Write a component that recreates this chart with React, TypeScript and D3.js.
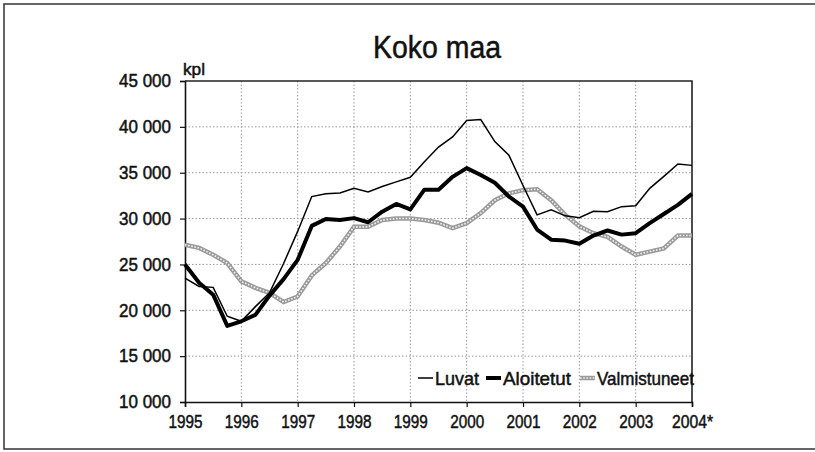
import React, { useEffect, useRef } from "react";
import * as d3 from "d3";

// vuosineljännekset 1995 - 2004
const quarters: number[] = d3.range(37).map((i) => 1995 + i * 0.25);

const luvat: number[] = [
	23500, 22600, 22500, 19350, 18800, 20400, 21900, 25100, 28600, 32400, 32700, 32800, 33300, 32900,
	33500, 34000, 34500, 36200, 37800, 38900, 40700, 40800, 38400, 36900, 33600, 30400, 30950, 30300,
	30100, 30800, 30750, 31300, 31400, 33300, 34600, 35950, 35800,
];

const aloitetut: number[] = [
	25000, 23000, 21700, 18300, 18800, 19500, 21600, 23400, 25500, 29200, 29950, 29850, 30050, 29600,
	30750, 31600, 31000, 33150, 33150, 34550, 35500, 34750, 33900, 32400, 31300, 28800, 27700, 27600,
	27250, 28150, 28700, 28250, 28400, 29500, 30500, 31500, 32700,
];

const valmistuneet: number[] = [
	27150, 26800, 26050, 25150, 23150, 22450, 21900, 20900, 21500, 23800, 25150, 26950, 29100, 29100,
	29850, 30000, 30000, 29850, 29550, 28950, 29500, 30600, 32000, 32750, 33100, 33200, 32000, 30400,
	29150, 28400, 28000, 26950, 26050, 26400, 26750, 28150, 28150,
];

const yearTicks: number[] = d3.range(1995, 2005);
const yearLabels: string[] = ["1995", "1996", "1997", "1998", "1999", "2000", "2001", "2002", "2003", "2004*"];
const valueTicks: number[] = d3.range(10000, 45001, 5000);

const W = 815;
const H = 452;
const FONT = "'Liberation Sans', Arial, sans-serif";

// kapea teksti: venytetään annettuun leveyteen
function narrow(sel: any, len: number | ((d: any, i: number) => number)) {
	sel
		.attr("textLength", len)
		.attr("lengthAdjust", "spacingAndGlyphs")
		.attr("stroke", "#111")
		.attr("stroke-width", 0.5);
}

export default function App() {
	const svgRef = useRef<SVGSVGElement>(null);

	useEffect(() => {
		const svg = d3.select(svgRef.current);
		svg.selectAll("*").remove();

		const x = d3.scaleLinear().domain([1995, 2004]).range([185, 692]);
		const y = d3.scaleLinear().domain([10000, 45000]).range([402, 81]);

		// ulkokehys
		svg
			.append("rect")
			.attr("x", 4)
			.attr("y", 4)
			.attr("width", W + 10)
			.attr("height", H - 7)
			.attr("fill", "white")
			.attr("stroke", "#333")
			.attr("stroke-width", 1.5);

		svg
			.append("text")
			.attr("x", 437)
			.attr("y", 58)
			.attr("text-anchor", "middle")
			.attr("font-family", FONT)
			.attr("font-size", 31)
			.attr("fill", "#111")
			.text("Koko maa")
			.call(narrow, 128);

		svg
			.append("text")
			.attr("x", 183)
			.attr("y", 75)
			.attr("font-family", FONT)
			.attr("font-size", 17)
			.attr("fill", "#111")
			.text("kpl")
			.call(narrow, 22);

		// ruudukko
		const grid = svg.append("g").attr("stroke", "#999").attr("stroke-width", 1).attr("stroke-dasharray", "1.5,2");
		grid
			.selectAll(".hgrid")
			.data(valueTicks.slice(1, -1))
			.join("line")
			.attr("class", "hgrid")
			.attr("x1", x(1995))
			.attr("x2", x(2004))
			.attr("y1", (d) => y(d))
			.attr("y2", (d) => y(d));
		grid
			.selectAll(".vgrid")
			.data(yearTicks.slice(1, -1))
			.join("line")
			.attr("class", "vgrid")
			.attr("x1", (d) => x(d))
			.attr("x2", (d) => x(d))
			.attr("y1", y(45000))
			.attr("y2", y(10000));

		// kehys: ylä ja oikea
		svg
			.append("path")
			.attr("d", `M${x(1995)},${y(45000)}H${x(2004)}V${y(10000)}`)
			.attr("fill", "none")
			.attr("stroke", "#222")
			.attr("stroke-width", 1.6);

		// akselit
		const yAxis = d3
			.axisLeft(y)
			.tickValues(valueTicks)
			.tickSize(5)
			.tickPadding(9)
			.tickFormat((d) => `${(d as number) / 1000} 000`);
		const gy = svg.append("g").attr("transform", `translate(${x(1995)},0)`).call(yAxis);
		gy.select(".domain").attr("stroke", "#111").attr("stroke-width", 1.6);
		gy.selectAll(".tick line").attr("stroke", "#111").attr("stroke-width", 1.2);
		gy.selectAll(".tick text")
			.attr("font-family", FONT)
			.attr("font-size", 18)
			.attr("fill", "#111")
			.call(narrow, 52);

		const xAxis = d3
			.axisBottom(x)
			.tickValues(yearTicks)
			.tickSize(5)
			.tickPadding(8)
			.tickFormat((d, i) => yearLabels[i]);
		const gx = svg.append("g").attr("transform", `translate(0,${y(10000)})`).call(xAxis);
		gx.select(".domain").attr("stroke", "#111").attr("stroke-width", 1.6);
		gx.selectAll(".tick line").attr("stroke", "#111").attr("stroke-width", 1.2);
		gx.selectAll(".tick text")
			.attr("font-family", FONT)
			.attr("font-size", 19)
			.attr("fill", "#111")
			.call(narrow, (d: any, i: number) => (i === 9 ? 41 : 34));

		const line = d3
			.line<number>()
			.x((d, i) => x(quarters[i]))
			.y((d) => y(d));

		// valmistuneet: harmaa kuvioviiva
		svg
			.append("path")
			.datum(valmistuneet)
			.attr("d", line)
			.attr("fill", "none")
			.attr("stroke", "#9a9a9a")
			.attr("stroke-width", 4.5);
		svg
			.append("path")
			.datum(valmistuneet)
			.attr("d", line)
			.attr("fill", "none")
			.attr("stroke", "#f2f2f2")
			.attr("stroke-width", 1.6)
			.attr("stroke-dasharray", "1.6,1.6");

		svg
			.append("path")
			.datum(aloitetut)
			.attr("d", line)
			.attr("fill", "none")
			.attr("stroke", "#000")
			.attr("stroke-width", 4)
			.attr("stroke-linejoin", "round");

		svg
			.append("path")
			.datum(luvat)
			.attr("d", line)
			.attr("fill", "none")
			.attr("stroke", "#000")
			.attr("stroke-width", 1.5);

		// selite
		const legend = svg.append("g").attr("font-family", FONT).attr("font-size", 19).attr("fill", "#111");
		const items = [
			{ label: "Luvat", x0: 418, len: 44, w: 1.5, grey: false },
			{ label: "Aloitetut", x0: 486, len: 68, w: 4, grey: false },
			{ label: "Valmistuneet", x0: 580, len: 97, w: 4.5, grey: true },
		];
		items.forEach((it) => {
			const ly = 378;
			legend
				.append("line")
				.attr("x1", it.x0)
				.attr("x2", it.x0 + 15)
				.attr("y1", ly)
				.attr("y2", ly)
				.attr("stroke", it.grey ? "#9a9a9a" : "#000")
				.attr("stroke-width", it.w);
			if (it.grey)
				legend
					.append("line")
					.attr("x1", it.x0)
					.attr("x2", it.x0 + 15)
					.attr("y1", ly)
					.attr("y2", ly)
					.attr("stroke", "#f2f2f2")
					.attr("stroke-width", 1.6)
					.attr("stroke-dasharray", "1.6,1.6");
			legend
				.append("text")
				.attr("x", it.x0 + 17)
				.attr("y", ly + 7)
				.text(it.label)
				.call(narrow, it.len);
		});
	}, []);

	return (
		<svg
			ref={svgRef}
			width={W}
			height={H}
			style={{ position: "fixed", left: 0, top: 0, background: "white" }}
		></svg>
	);
}
